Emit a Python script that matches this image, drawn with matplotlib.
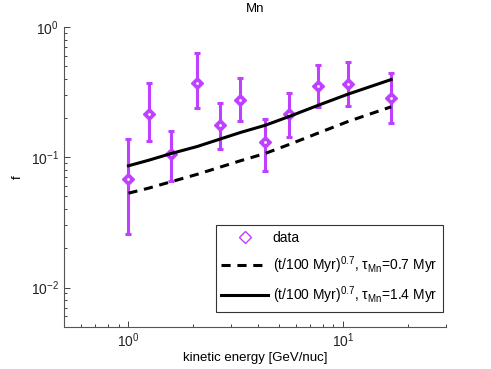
import matplotlib
matplotlib.use("Agg")
import matplotlib.pyplot as plt
from matplotlib.ticker import LogLocator, NullFormatter

plt.rcParams['font.family'] = ['Liberation Sans', 'DejaVu Sans']
plt.rcParams['mathtext.fontset'] = 'custom'
plt.rcParams['mathtext.rm'] = 'Liberation Sans'
plt.rcParams['mathtext.it'] = 'Liberation Sans'

energy = [1.0, 1.245, 1.585, 2.09, 2.67, 3.32, 4.33, 5.57, 7.61, 10.5, 16.7]
f_data = [0.068, 0.215, 0.106, 0.37, 0.176, 0.274, 0.130, 0.215, 0.354, 0.365, 0.284]
f_upper = [0.138, 0.37, 0.16, 0.634, 0.263, 0.405, 0.197, 0.314, 0.507, 0.535, 0.443]
f_lower = [0.0257, 0.134, 0.066, 0.239, 0.115, 0.189, 0.079, 0.144, 0.245, 0.248, 0.184]
model_short = [0.053, 0.058, 0.065, 0.074, 0.084, 0.094, 0.107, 0.125, 0.153, 0.188, 0.244]
model_long = [0.086, 0.095, 0.107, 0.121, 0.138, 0.155, 0.176, 0.205, 0.25, 0.305, 0.395]

purple = '#bf40ff'

fig = plt.figure(figsize=(4.91, 3.69), dpi=100)
ax = fig.add_axes([0.130, 0.1146, 0.778, 0.8122])

yerr = [[d - l for d, l in zip(f_data, f_lower)], [u - d for u, d in zip(f_upper, f_data)]]
ax.errorbar(energy, f_data, yerr=yerr, fmt='none', ecolor=purple, elinewidth=2.2,
            capsize=2.5, capthick=2.2, zorder=2)
ax.plot(energy, f_data, linestyle='none', marker='D', markersize=6,
        markerfacecolor=purple, markeredgecolor=purple, zorder=3)
ax.plot(energy, f_data, linestyle='none', marker='.', markersize=2,
        color='white', zorder=4)
ax.plot(energy, model_short, 'k--', linewidth=2.2, dashes=(3, 2.2), zorder=5)
ax.plot(energy, model_long, 'k-', linewidth=2.2, zorder=5)

h_data, = ax.plot([], [], linestyle='none', marker='D', markersize=6,
                  markerfacecolor='none', markeredgecolor=purple, markeredgewidth=1)
h_short, = ax.plot([], [], 'k--', linewidth=2.2, dashes=(3, 2.2))
h_long, = ax.plot([], [], 'k-', linewidth=2.2)

ax.set_xscale('log')
ax.set_yscale('log')
ax.set_xlim(0.5, 30)
ax.set_ylim(0.005, 1)

for s in ['top', 'right']:
    ax.spines[s].set_visible(False)
for s in ['left', 'bottom']:
    ax.spines[s].set_color('#555555')
    ax.spines[s].set_linewidth(0.8)

ax.xaxis.set_major_locator(LogLocator(base=10, numticks=10))
ax.yaxis.set_major_locator(LogLocator(base=10, numticks=10))
ax.xaxis.set_minor_locator(LogLocator(base=10, subs=range(2, 10), numticks=10))
ax.yaxis.set_minor_locator(LogLocator(base=10, subs=range(2, 10), numticks=10))
ax.xaxis.set_minor_formatter(NullFormatter())
ax.yaxis.set_minor_formatter(NullFormatter())
ax.tick_params(which='both', direction='in', labelsize=10, colors='#222222')
ax.tick_params(which='major', length=4, width=0.6)
ax.tick_params(which='minor', length=2, width=0.6)

ax.set_title('Mn', fontsize=9.5, pad=11)
ax.set_xlabel('kinetic energy [GeV/nuc]', fontsize=9.5, labelpad=1)
ax.set_ylabel('f', fontsize=9.5, labelpad=5)

leg = ax.legend([h_data, h_short, h_long],
                ['data',
                 r'(t/100 Myr)$^{0.7}$, $\tau_{\rm Mn}$=0.7 Myr',
                 r'(t/100 Myr)$^{0.7}$, $\tau_{\rm Mn}$=1.4 Myr'],
                loc='lower right', bbox_to_anchor=(0.995, 0.045), fontsize=10,
                frameon=True, fancybox=False, edgecolor='black', handlelength=3.4,
                borderpad=0.4, labelspacing=0.65, handletextpad=0.3, borderaxespad=0.1)
leg.get_frame().set_linewidth(0.8)

fig.savefig('out.png', dpi=100)
